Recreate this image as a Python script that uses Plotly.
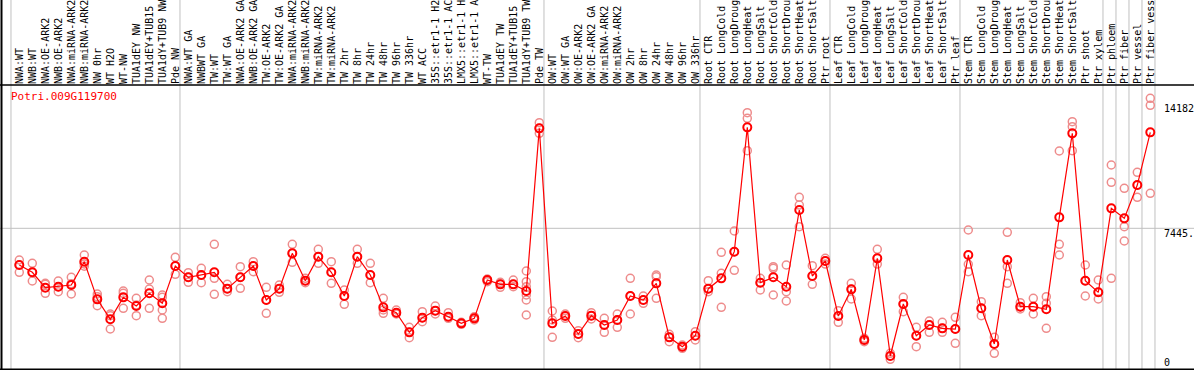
import plotly.graph_objects as go

gene = "Potri.009G119700"

labels = [
    "NWA:WT", "NWB:WT", "NWA:OE-ARK2", "NWB:OE-ARK2", "NWA:miRNA-ARK2", "NWB:miRNA-ARK2",
    "NW 0hr", "WT H2O", "WT-NW", "TUA1dEY NW", "TUA1dEY+TUB15 NW", "TUA1dY+TUB9 NW", "Pde NW",
    "NWA:WT GA", "NWBWT GA", "TW:WT", "TW:WT GA", "NWA:OE-ARK2 GA", "NWB:OE-ARK2 GA",
    "TW:OE-ARK2", "TW:OE-ARK2 GA", "NWA:miRNA-ARK2 GA", "NWB:miRNA-ARK2 GA", "TW:miRNA-ARK2",
    "TW:miRNA-ARK2 GA", "TW 2hr", "TW 8hr", "TW 24hr", "TW 48hr", "TW 96hr", "TW 336hr",
    "WT ACC", "35S::etr1-1 H2O", "35S::etr1-1 ACC", "LMX5::etr1-1 H2O", "LMX5::etr1-1 ACC",
    "WT-TW", "TUA1dEY TW", "TUA1dEY+TUB15 TW", "TUA1dY+TUB9 TW", "Pde TW",
    "OW:WT", "OW:WT GA", "OW:OE-ARK2", "OW:OE-ARK2 GA", "OW:miRNA-ARK2", "OW:miRNA-ARK2 GA",
    "OW 2hr", "OW 8hr", "OW 24hr", "OW 48hr", "OW 96hr", "OW 336hr",
    "Root CTR", "Root LongCold", "Root LongDrought", "Root LongHeat", "Root LongSalt",
    "Root ShortCold", "Root ShortDrought", "Root ShortHeat", "Root ShortSalt", "Ptr root",
    "Leaf CTR", "Leaf LongCold", "Leaf LongDrought", "Leaf LongHeat", "Leaf LongSalt",
    "Leaf ShortCold", "Leaf ShortDrought", "Leaf ShortHeat", "Leaf ShortSalt", "Ptr leaf",
    "Stem CTR", "Stem LongCold", "Stem LongDrought", "Stem LongHeat", "Stem LongSalt",
    "Stem ShortCold", "Stem ShortDrought", "Stem ShortHeat", "Stem ShortSalt", "Ptr shoot",
    "Ptr xylem", "Ptr phloem", "Ptr fiber", "Ptr vessel", "Ptr fiber vessel",
]

means = [
    5544, 5164, 4369, 4421, 4507, 5716, 3765, 2729, 3868, 3419, 4076, 3558, 5492,
    4905, 5026, 5164, 4318, 4905, 5492, 3730, 4318, 6148, 4732, 5975, 5164, 3938,
    5975, 5026, 3350, 3074, 2055, 2815, 3178, 2867, 2521, 2780, 4767, 4542, 4542,
    4197, 12624,
    2521, 2901, 1969, 2919, 2435, 2694, 3938, 3730, 4594, 1796, 1313, 1882,
    4318, 4853, 6234, 12676, 4628, 4905, 4421, 8393, 4974, 5751,
    2901, 4283, 1658, 5889, 829, 3523, 1882, 2435, 2262, 2228,
    6062, 3299, 1451, 5803, 3385, 3385, 3247, 8013, 12365, 4732, 4128,
    8480, 7961, 9688, 12417,
]

reps = [
    [5803, 5544, 5164], [5630, 5150, 4715], [4594, 4542, 4076], [4715, 4421, 4162],
    [4905, 4575, 4041], [6062, 5600, 5480], [4041, 3903, 3437], [3005, 2919, 2228],
    [4197, 4076, 3299], [3817, 3471, 2919], [4767, 4300, 3299], [3989, 3868, 3212, 2780],
    [5941, 5492, 5060], [5146, 4905, 4646], [5371, 5026, 4628], [6614, 4853, 4024],
    [4542, 4318, 4162], [5457, 4905, 4335], [5716, 5492, 5198], [4387, 3730, 3040],
    [4507, 4318, 4128], [6614, 6148, 5682], [4853, 4732, 4628], [6355, 5975, 5630],
    [5716, 5164, 4594], [4248, 3938, 3506], [6355, 5975, 5630], [5630, 5026, 4628],
    [3817, 3212, 3040], [3212, 3074, 3005], [2314, 2055, 1779], [3126, 2815, 2608],
    [3419, 3178, 3005], [3074, 2867, 2780], [2573, 2521, 2470], [2867, 2780, 2694],
    [4818, 4767, 4680], [4646, 4542, 4387], [4767, 4542, 4421],
    [5233, 4680, 4421, 3989, 3730, 2953], [12918, 12624, 12365],
    [3160, 2694, 1796], [3005, 2901, 2780], [2141, 1969, 1779], [3074, 2919, 2746],
    [2780, 2435, 2055], [3005, 2694, 2314], [4853, 3938, 3005], [3938, 3730, 3558],
    [5026, 4939, 3817], [1952, 1796, 1572], [1399, 1313, 1226], [2090, 1882, 1658],
    [4732, 4318, 4162], [6200, 5112, 3350], [7305, 6234, 5267], [13436, 13142, 11467],
    [4853, 4628, 4248], [5457, 5371, 3989], [5544, 4162, 3678], [9049, 8652, 7530],
    [5509, 4974, 4542], [5889, 5751, 5595], [3178, 2901, 2573], [4594, 4283, 3782],
    [1744, 1658, 1572], [6355, 5889, 5595], [967, 829, 656], [3868, 3523, 3126],
    [2314, 1882, 1313], [2642, 2435, 2055], [2573, 2262, 2055], [2832, 2228, 1485],
    [7357, 5578, 5198], [3644, 3299, 2919], [1796, 1451, 967], [7236, 5457, 4594],
    [3592, 3385, 3264], [3817, 3385, 3005], [3903, 3558, 2262], [11450, 6614, 6062],
    [12970, 12711, 11467], [5544, 4732, 3938], [4767, 4128, 3782],
    [10725, 9827, 4853], [9516, 7530, 6787], [10345, 9670, 9049], [14179, 13816, 9257],
]

group_starts = [0, 13, 41, 53, 63, 73, 84, 85, 86, 87, 88]
max_label = "14182"
mid_value = 7445.55
mid_label = "7445.55"
zero_label = "0"

# ---- layout geometry (pixels) ----
W, H, TOP = 1194, 370, 85
PX0, STEP = 19.3, 13.0
xr0 = -PX0 / STEP
xr1 = xr0 + W / STEP
ZERO_PX, PX_PER_UNIT = 372.0, 0.0193
yr0 = (ZERO_PX - H) / PX_PER_UNIT
yr1 = (ZERO_PX - TOP) / PX_PER_UNIT


def pxx(px):
    return px / W


def pxy(py):
    return (H - py) / (H - TOP)


def xpaper(xv):
    return (xv - xr0) / (xr1 - xr0)


xs = list(range(len(labels)))
rep_x, rep_y = [], []
for i, r in enumerate(reps):
    for v in r:
        rep_x.append(i)
        rep_y.append(v)

RED = "#FF0000"
PINK = "#EE8C8C"
GRAY = "#C0C0C0"
FONT = "DejaVu Sans Mono"

fig = go.Figure()
fig.add_trace(go.Scatter(
    x=rep_x, y=rep_y, mode="markers", hoverinfo="skip", showlegend=False,
    marker=dict(symbol="circle-open", size=8, color=PINK, line=dict(width=1.5, color=PINK)),
))
fig.add_trace(go.Scatter(
    x=xs, y=means, mode="lines+markers", showlegend=False,
    line=dict(color=RED, width=1.2),
    marker=dict(symbol="circle-open", size=8, color=RED, line=dict(width=2, color=RED)),
))

shapes = []
for b in group_starts:
    xp = xpaper(b - 0.64)
    shapes.append(dict(type="line", xref="paper", yref="paper", x0=xp, x1=xp,
                       y0=0, y1=pxy(0), line=dict(color=GRAY, width=1), layer="below"))
shapes.append(dict(type="line", xref="paper", yref="y", x0=0, x1=1,
                   y0=mid_value, y1=mid_value, line=dict(color=GRAY, width=1), layer="below"))
# frame
shapes.append(dict(type="line", xref="paper", yref="paper", x0=0, x1=1,
                   y0=pxy(85), y1=pxy(85), line=dict(color="black", width=1.5)))
shapes.append(dict(type="line", xref="paper", yref="paper", x0=pxx(1.5), x1=pxx(1.5),
                   y0=pxy(0), y1=pxy(370), line=dict(color="black", width=2)))
shapes.append(dict(type="line", xref="paper", yref="paper", x0=0, x1=1,
                   y0=pxy(369.5), y1=pxy(369.5), line=dict(color="black", width=2)))

annotations = [
    dict(text=gene, xref="paper", yref="paper", x=pxx(9), y=pxy(96), xanchor="left",
         yanchor="middle", showarrow=False, font=dict(family=FONT, size=11, color=RED)),
    dict(text=max_label, xref="paper", yref="paper", x=pxx(1162), y=pxy(108), xanchor="left",
         yanchor="middle", showarrow=False, font=dict(family=FONT, size=10, color="black")),
    dict(text=mid_label, xref="paper", yref="paper", x=pxx(1162), y=pxy(233), xanchor="left",
         yanchor="middle", showarrow=False, font=dict(family=FONT, size=10, color="black")),
    dict(text=zero_label, xref="paper", yref="paper", x=pxx(1162), y=pxy(362), xanchor="left",
         yanchor="middle", showarrow=False, font=dict(family=FONT, size=10, color="black")),
]

fig.update_layout(
    width=W, height=H, template="none",
    margin=dict(l=0, r=0, t=TOP, b=0, pad=0),
    paper_bgcolor="white", plot_bgcolor="white",
    showlegend=False,
    shapes=shapes, annotations=annotations,
    xaxis=dict(range=[xr0, xr1], side="top", tickmode="array", tickvals=xs, ticktext=labels,
               tickangle=-90, ticks="", showgrid=False, zeroline=False, showline=False,
               automargin=False, tickfont=dict(family=FONT, size=10, color="black")),
    yaxis=dict(range=[yr0, yr1], showticklabels=False, ticks="", showgrid=False,
               zeroline=False, showline=False, automargin=False),
)

fig.write_html(
    "out.html",
    config={"displayModeBar": False},
    post_script="document.body.style.margin='0';document.body.style.overflow='hidden';",
)
